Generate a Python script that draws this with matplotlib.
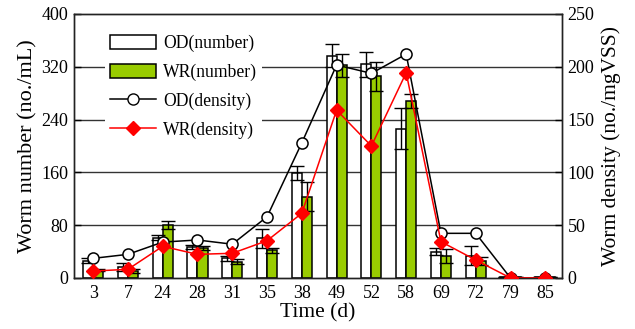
import matplotlib
matplotlib.use("Agg")
import matplotlib.pyplot as plt
import numpy as np
from matplotlib.lines import Line2D
from matplotlib.patches import Rectangle

plt.rcParams['font.family'] = ['Liberation Serif', 'DejaVu Serif']
plt.rcParams['mathtext.fontset'] = 'stix'

days = ["3", "7", "24", "28", "31", "35", "38", "49", "52", "58", "69", "72", "79", "85"]
od_number = [26, 17, 61, 47, 30, 60, 159, 337, 324, 226, 40, 34, 2, 1]
od_number_err = [4, 6, 4, 3, 4, 14, 10, 18, 19, 31, 5, 14, 0, 0]
wr_number = [12, 11, 80, 45, 25, 42, 123, 322, 306, 268, 33, 26, 1, 2]
wr_number_err = [2, 3, 6, 3, 4, 4, 22, 17, 22, 11, 11, 6, 0, 0]
od_density = [18.6, 22.4, 34, 36, 32, 58, 128, 201.7, 193.8, 212, 42.3, 42.3, 0, 0]
wr_density = [6.6, 8.2, 30, 22.4, 23.4, 35.3, 61.3, 159, 125, 194.4, 34.4, 17, 0, 0]

left_ticks = [0, 80, 160, 240, 320, 400]
right_ticks = [0, 50, 100, 150, 200, 250]

green = '#99cc00'
red = '#ff0000'

fig = plt.figure(figsize=(6.35, 3.29), dpi=100)
ax = fig.add_axes([74/635, 51/329, (562-74)/635, (278-14)/329])
ax2 = ax.twinx()

x = np.arange(len(days))
w = 0.29

for yv in left_ticks[1:-1]:
    ax.axhline(yv, color='#333333', lw=1.0, zorder=0)

ax.bar(x - w/2, od_number, w, color='white', edgecolor='black', lw=1.1, zorder=2)
ax.bar(x + w/2, wr_number, w, color=green, edgecolor='black', lw=1.1, zorder=2)
ax.errorbar(x - w/2, od_number, yerr=od_number_err, fmt='none', ecolor='black',
            elinewidth=1.0, capsize=5, capthick=1.0, zorder=3)
ax.errorbar(x + w/2, wr_number, yerr=wr_number_err, fmt='none', ecolor='black',
            elinewidth=1.0, capsize=5, capthick=1.0, zorder=3)

ax.set_xlim(-0.55, 13.48)
ax.set_ylim(0, 400)
ax.set_yticks(left_ticks)
ax.set_xticks(x)
ax.set_xticklabels(days)
ax.tick_params(axis='y', direction='in', length=5, width=1, labelsize=13, pad=4)
ax.tick_params(axis='x', length=0, labelsize=13, pad=5)
ax.set_xlabel('Time (d)', fontsize=15.5, labelpad=1)
ax.set_ylabel('Worm number (no./mL)', fontsize=16, labelpad=3)

ax2.plot(x, od_density, color='black', lw=1.1, marker='o', ms=8,
         mfc='white', mec='black', mew=1.1, zorder=4)
ax2.plot(x, wr_density, color=red, lw=1.1, marker='D', ms=7,
         mfc=red, mec=red, zorder=5)
ax2.set_ylim(0, 250)
ax2.set_yticks(right_ticks)
ax2.tick_params(axis='y', direction='in', length=5, width=1, labelsize=13, pad=4)
ax2.set_ylabel('Worm density (no./mgVSS)', fontsize=15.5, labelpad=5)

for a in (ax, ax2):
    for s in a.spines.values():
        s.set_linewidth(1.0)
        s.set_color('#222222')

handles = [
    Rectangle((0, 0), 1, 1, facecolor='white', edgecolor='black', lw=1.1),
    Rectangle((0, 0), 1, 1, facecolor=green, edgecolor='black', lw=1.1),
    Line2D([], [], color='black', lw=1.1, marker='o', ms=8, mfc='white', mec='black'),
    Line2D([], [], color=red, lw=1.1, marker='D', ms=7, mfc=red, mec=red),
]
labels = ['OD(number)', 'WR(number)', 'OD(density)', 'WR(density)']
leg = ax2.legend(handles, labels, loc='upper left', bbox_to_anchor=(0.045, 0.975),
                 frameon=True, fontsize=12.7, handlelength=2.6, handleheight=0.9,
                 labelspacing=0.65, handletextpad=0.4, borderpad=0.3)
leg.get_frame().set_facecolor('white')
leg.get_frame().set_edgecolor('none')
leg.get_frame().set_alpha(1)
leg.set_zorder(10)

fig.savefig('out.png', dpi=100)
